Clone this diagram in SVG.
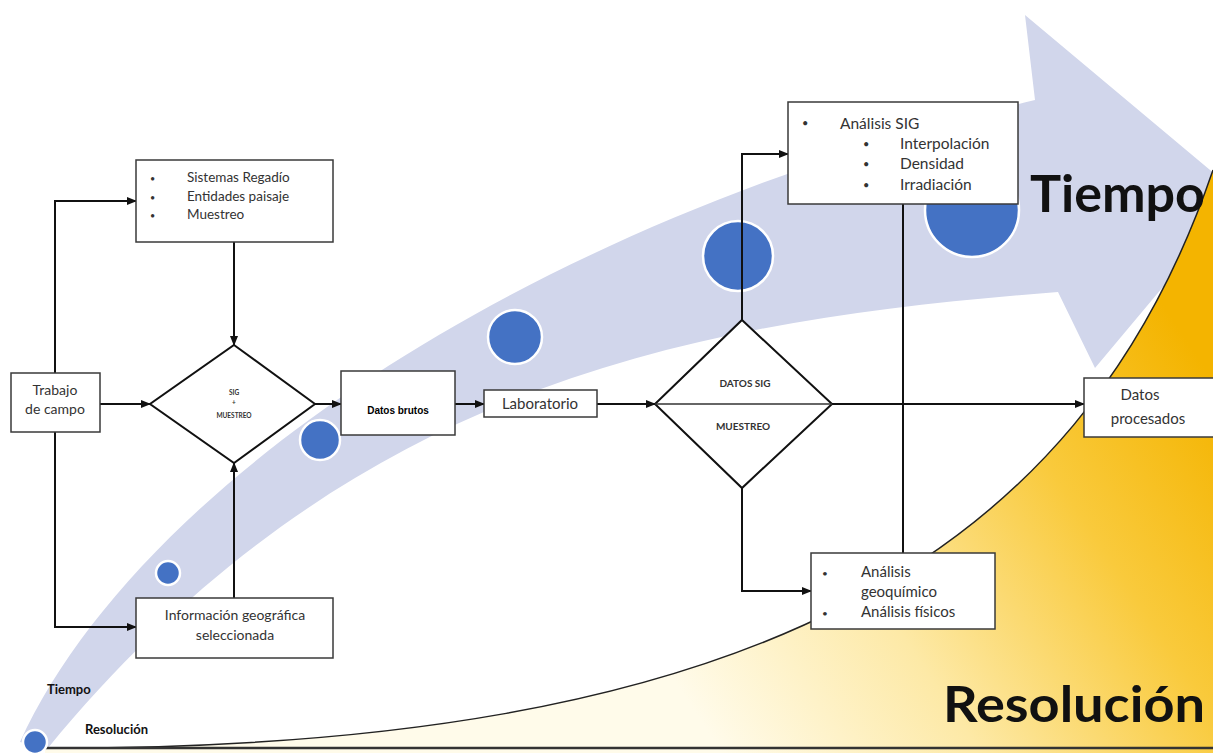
<svg xmlns="http://www.w3.org/2000/svg" width="1213" height="753" viewBox="0 0 1213 753">
<defs>
<linearGradient id="yel" x1="700" y1="720" x2="1213" y2="380" gradientUnits="userSpaceOnUse">
<stop offset="0" stop-color="#fffbea"/>
<stop offset="0.35" stop-color="#fde9a6"/>
<stop offset="0.7" stop-color="#f9ca3c"/>
<stop offset="1" stop-color="#f4b400"/>
</linearGradient>
<marker id="ah" markerWidth="10" markerHeight="8" refX="9" refY="4" orient="auto" markerUnits="userSpaceOnUse">
<path d="M0,0 L10,4 L0,8 Z" fill="#111"/>
</marker>
<style>
.box{fill:#fff;stroke:#3a3a3a;stroke-width:1.5}
.dia{fill:#fff;stroke:#111;stroke-width:2}
.con{fill:none;stroke:#111;stroke-width:2}
.arr{marker-end:url(#ah)}
.t{font-family:Lato,"Open Sans","Liberation Sans",sans-serif;fill:#333}
.c{text-anchor:middle}
.big{font-family:Lato,"Open Sans","Liberation Sans",sans-serif;font-weight:bold;fill:#111}
.dot{fill:#4472c4;stroke:#fff;stroke-width:2.5}
</style>
</defs>
<rect width="1213" height="753" fill="#fff"/>
<g id="background">
<path d="M20,742 C130,500 500,230 1035,100 L1025,15 L1240,195 L1095,368 L1058,292 C700,320 350,380 48,748 Z" fill="#d1d6eb"/>
<path d="M45,748 C750,750 1080,560 1213,170 L1213,753 L45,753 Z" fill="url(#yel)"/>
<path d="M45,748 C750,750 1080,560 1213,170" fill="none" stroke="#222" stroke-width="1.5"/>
<line x1="45" y1="748" x2="1213" y2="748" stroke="#333" stroke-width="2.5"/>
<circle class="dot" cx="35" cy="742" r="12"/>
<circle class="dot" cx="168" cy="573" r="12"/>
<circle class="dot" cx="320" cy="440" r="20"/>
<circle class="dot" cx="515" cy="337" r="27"/>
<circle class="dot" cx="738" cy="256" r="35"/>
<circle class="dot" cx="972" cy="210" r="47"/>
<text class="big" x="1030" y="212" font-size="52" textLength="175" lengthAdjust="spacingAndGlyphs">Tiempo</text>
<text class="big" x="943" y="722" font-size="50" textLength="262" lengthAdjust="spacingAndGlyphs">Resolución</text>
<text class="big" x="47" y="694" font-size="13">Tiempo</text>
<text class="big" x="85" y="734" font-size="13">Resolución</text>
</g>
<g id="connectors">
<line class="con arr" x1="100" y1="404" x2="150" y2="404"/>
<polyline class="con arr" points="55,373 55,201 136,201"/>
<polyline class="con arr" points="55,432 55,627 136,627"/>
<line class="con arr" x1="234" y1="242" x2="234" y2="345"/>
<line class="con arr" x1="234" y1="598" x2="234" y2="463"/>
<line class="con arr" x1="315" y1="404" x2="341" y2="404"/>
<line class="con arr" x1="455" y1="404" x2="484" y2="404"/>
<line class="con arr" x1="597" y1="404" x2="655" y2="404"/>
<line class="con arr" x1="832" y1="404" x2="1084" y2="404"/>
<polyline class="con arr" points="742,320 742,154 788,154"/>
<polyline class="con arr" points="742,488 742,591 811,591"/>
<line class="con" x1="903" y1="204" x2="903" y2="553"/>
</g>
<g id="trabajo">
<rect class="box" x="11" y="373" width="89" height="59"/>
<text class="t c" x="55" y="395" style="font-size:14px">Trabajo</text>
<text class="t c" x="55" y="414" style="font-size:14px">de campo</text>
</g>
<g id="sistemas">
<rect class="box" x="136" y="160" width="197" height="82"/>
<text class="t" x="150" y="182" style="font-size:9px">•</text>
<text class="t" x="150" y="201" style="font-size:9px">•</text>
<text class="t" x="150" y="219" style="font-size:9px">•</text>
<text class="t" x="187" y="182" style="font-size:13.5px">Sistemas Regadío</text>
<text class="t" x="187" y="201" style="font-size:13.5px">Entidades paisaje</text>
<text class="t" x="187" y="219" style="font-size:13.5px">Muestreo</text>
</g>
<g id="sigmuestreo">
<polygon class="dia" points="234,345 315,404 234,463 150,404"/>
<text class="t c" x="234" y="395" style="font-size:6.5px;font-weight:bold">SIG</text>
<text class="t c" x="234" y="405" style="font-size:6.5px;font-weight:bold">+</text>
<text class="t c" x="234" y="418" style="font-size:6.5px;font-weight:bold">MUESTREO</text>
</g>
<g id="infogeo">
<rect class="box" x="136" y="598" width="197" height="60"/>
<text class="t c" x="235" y="620" style="font-size:14px">Información geográfica</text>
<text class="t c" x="235" y="640" style="font-size:14px">seleccionada</text>
</g>
<g id="datosbrutos">
<rect class="box" x="341" y="371" width="114" height="64"/>
<text x="398" y="414" font-family="'Liberation Sans',Arial,sans-serif" font-size="10" font-weight="bold" text-anchor="middle" fill="#000">Datos brutos</text>
</g>
<g id="laboratorio">
<rect class="box" x="484" y="390" width="113" height="27"/>
<text class="t c" x="540" y="409" style="font-size:15px">Laboratorio</text>
</g>
<g id="datossig">
<polygon class="dia" points="742,320 832,404 742,488 655,404"/>
<line x1="655" y1="404" x2="832" y2="404" stroke="#333" stroke-width="1.5"/>
<text class="t c" x="745" y="387" style="font-size:10px;font-weight:bold">DATOS SIG</text>
<text class="t c" x="743" y="430" style="font-size:10px;font-weight:bold">MUESTREO</text>
</g>
<g id="analisissig">
<rect class="box" x="788" y="102" width="230" height="102"/>
<text class="t" x="802" y="127" style="font-size:11px">•</text>
<text class="t" x="840" y="129" style="font-size:15.5px">Análisis SIG</text>
<text class="t" x="863" y="148" style="font-size:11px">•</text>
<text class="t" x="863" y="168" style="font-size:11px">•</text>
<text class="t" x="863" y="189" style="font-size:11px">•</text>
<text class="t" x="900" y="149" style="font-size:15.5px">Interpolación</text>
<text class="t" x="900" y="169" style="font-size:15.5px">Densidad</text>
<text class="t" x="900" y="190" style="font-size:15.5px">Irradiación</text>
</g>
<g id="analisisgeo">
<rect class="box" x="811" y="553" width="184" height="76"/>
<text class="t" x="822" y="577" style="font-size:10px">•</text>
<text class="t" x="822" y="617" style="font-size:10px">•</text>
<text class="t" x="861" y="577" style="font-size:15px">Análisis</text>
<text class="t" x="861" y="597" style="font-size:15px">geoquímico</text>
<text class="t" x="861" y="617" style="font-size:15px">Análisis físicos</text>
</g>
<g id="datosprocesados">
<rect class="box" x="1084" y="378" width="140" height="59"/>
<text class="t c" x="1140" y="400" style="font-size:15px">Datos</text>
<text class="t c" x="1148" y="424" style="font-size:15px">procesados</text>
</g>
</svg>
